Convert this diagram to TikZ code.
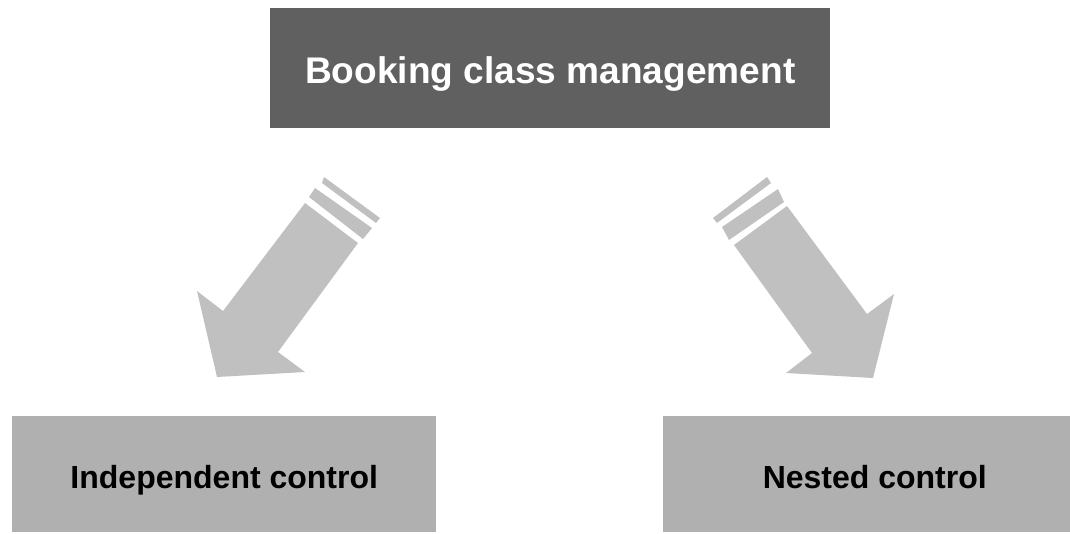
\documentclass[tikz,border=0pt]{standalone}
\usepackage{fontspec}
\setmainfont{Liberation Sans}
\definecolor{topgray}{HTML}{606060}
\definecolor{boxgray}{HTML}{B0B0B0}
\definecolor{arrowgray}{HTML}{C0C0C0}
\tikzset{
  topbox/.style={fill=topgray, text=white, font=\bfseries\fontsize{27.8}{32}\selectfont, minimum width=420pt, minimum height=90pt, inner sep=0pt, anchor=north west},
  subbox/.style={fill=boxgray, text=black, font=\bfseries\fontsize{24}{28}\selectfont, inner sep=0pt, anchor=north west},
  blockarrow/.style={fill=arrowgray, draw=none}
}
\begin{document}
\begin{tikzpicture}[x=0.75pt, y=-0.75pt]
\useasboundingbox (0,0) rectangle (1070,533);
\node[topbox] (top) at (270,8) {\raisebox{-11.25pt}[0pt][0pt]{Booking class management}};
\node[subbox, minimum width=318pt, minimum height=87pt] (left) at (12,416) {\raisebox{-10.5pt}[0pt][0pt]{Independent control}};
\node[subbox, minimum width=305.25pt, minimum height=87pt] (right) at (663,416) {\hspace*{12pt}\raisebox{-10.5pt}[0pt][0pt]{Nested control}};
% left arrow
\fill[blockarrow] (324,177) -- (380,218) -- (376,223) -- (322,183) -- cycle;
\fill[blockarrow] (315,188) -- (372,228) -- (363,239) -- (309,197) -- cycle;
\fill[blockarrow] (305,203) -- (358,243) -- (278,352) -- (305,372) -- (217,377) -- (197,291) -- (223,311) -- cycle;
% right arrow
\fill[blockarrow] (767,177) -- (771,183) -- (717,223) -- (713,218) -- cycle;
\fill[blockarrow] (778,189) -- (784,202) -- (729,240) -- (722,227) -- cycle;
\fill[blockarrow] (787,206) -- (734,245) -- (812,353) -- (786,373) -- (873,378) -- (894,294) -- (867,314) -- cycle;
\end{tikzpicture}
\end{document}
